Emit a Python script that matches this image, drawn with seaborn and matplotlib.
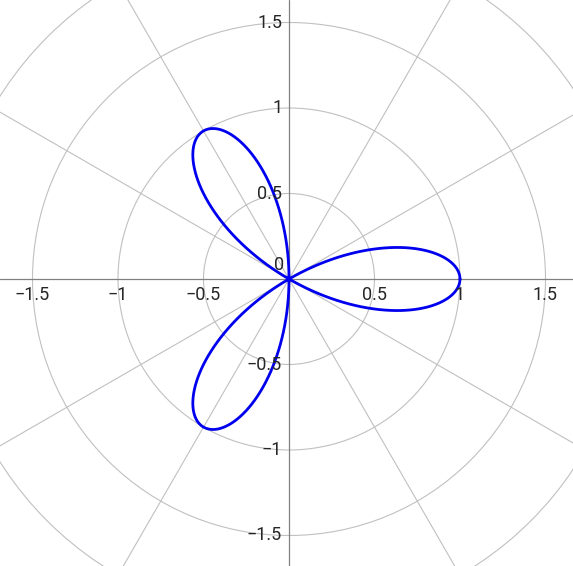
import numpy as np
import matplotlib
matplotlib.use("Agg")
import matplotlib.pyplot as plt
import seaborn as sns
import pandas as pd

theta = np.linspace(0, np.pi, 721)
k = 3
r = np.cos(k * theta)
df = pd.DataFrame({"x": r * np.cos(theta), "y": r * np.sin(theta)})

ticks = [-1.5, -1, -0.5, 0.5, 1, 1.5]
tick_labels = ["\u22121.5", "\u22121", "\u22120.5", "0.5", "1", "1.5"]
radii = [0.5, 1, 1.5, 2, 2.5]
angles_deg = list(range(0, 180, 30))

sns.set_style("white")
plt.rcParams['font.family'] = ['Roboto', 'DejaVu Sans']
fig = plt.figure(figsize=(5.73, 5.66), dpi=100)
ax = fig.add_axes([0, 0, 1, 1])
ax.set_xlim(-289/171, 284/171)
ax.set_ylim(-287/171, 279/171)
ax.set_aspect('auto')
for s in ax.spines.values():
    s.set_visible(False)
ax.set_xticks([]); ax.set_yticks([])

for rr in radii:
    ax.add_patch(plt.Circle((0, 0), rr, fill=False, color='#c0c0c0', lw=0.8))
for a in angles_deg:
    if a in (0, 90):
        continue
    t = np.deg2rad(a)
    ax.plot([-3*np.cos(t), 3*np.cos(t)], [-3*np.sin(t), 3*np.sin(t)], color='#c0c0c0', lw=0.8)
ax.axhline(0, color='#808080', lw=0.9)
ax.axvline(0, color='#808080', lw=0.9)

sns.lineplot(data=df, x="x", y="y", sort=False, estimator=None, color='#0000ee', lw=2, ax=ax)
ax.set_xlabel(""); ax.set_ylabel("")

for v, lab in zip(ticks, tick_labels):
    ax.text(v, -0.04, lab, ha='center', va='top', fontsize=13)
    ax.text(-0.04, v, lab, ha='right', va='center', fontsize=13)
ax.text(-0.03, 0.03, "0", ha='right', va='bottom', fontsize=13)

fig.savefig("out.png", dpi=100)
